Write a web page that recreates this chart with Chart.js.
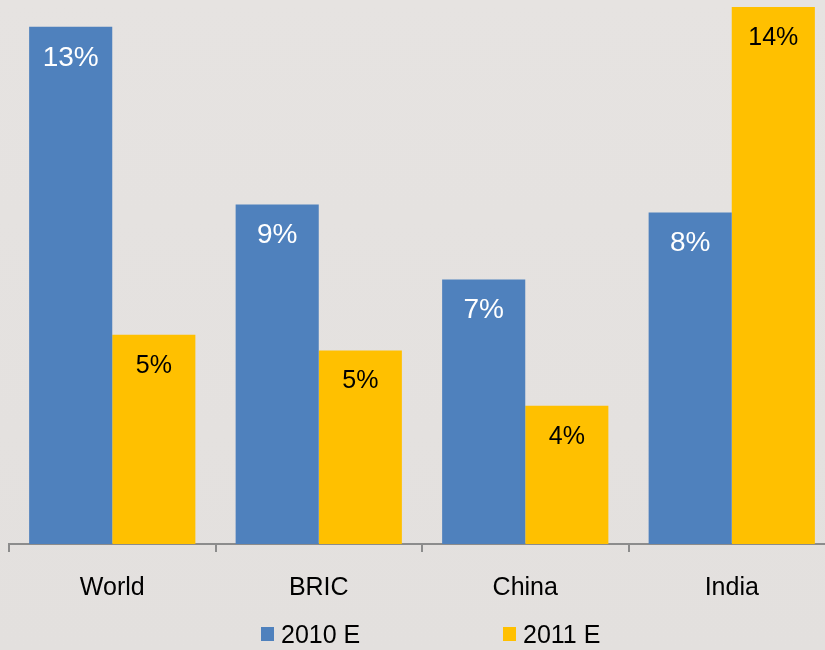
<!DOCTYPE html>
<html>
<head>
<meta charset="utf-8">
<script src="https://cdn.jsdelivr.net/npm/chart.js@4.4.0/dist/chart.umd.min.js"></script>
<style>
    html, body { margin: 0; padding: 0; overflow: hidden; }
    body { background: linear-gradient(180deg, #e6e3e1 0%, #e3e0de 100%); width: 825px; height: 650px; }
    #wrap { width: 845px; height: 650px; }
</style>
</head>
<body>
<div id="wrap"><canvas id="chart1" width="845" height="650"></canvas></div>
<script>
const categories = ["World", "BRIC", "China", "India"]
const seriesNames = ["2010 E", "2011 E"]
const values2010 = [13.1, 8.6, 6.7, 8.4]
const values2011 = [5.3, 4.9, 3.5, 13.6]

const seriesColors = ["#4f81bd", "#ffc000"]
const labelColors = ["#ffffff", "#000000"]
const labelSizes = [28, 25]
const fontFamily = "'Liberation Sans', Arial, sans-serif"

// value labels inside the top of each bar
const barLabels = {
    id: "barLabels",
    afterDatasetsDraw(chart) {
        const ctx = chart.ctx
        chart.data.datasets.forEach((ds, i) => {
            const meta = chart.getDatasetMeta(i)
            ctx.save()
            ctx.fillStyle = labelColors[i]
            ctx.font = labelSizes[i] + "px " + fontFamily
            ctx.textAlign = "center"
            ctx.textBaseline = "middle"
            meta.data.forEach((bar, j) => {
                ctx.fillText(Math.round(ds.data[j]) + "%", bar.x, bar.y + 31)
            })
            ctx.restore()
        })
    }
}

// legend drawn by hand, the built-in one can't be spaced this wide
const wideLegend = {
    id: "wideLegend",
    afterDraw(chart) {
        const ctx = chart.ctx
        const starts = [261, 503]
        ctx.save()
        ctx.font = "25px " + fontFamily
        ctx.textBaseline = "middle"
        ctx.textAlign = "left"
        chart.data.datasets.forEach((ds, i) => {
            ctx.fillStyle = ds.backgroundColor
            ctx.fillRect(starts[i], 627, 13, 14)
            ctx.fillStyle = "#000000"
            ctx.fillText(ds.label, starts[i] + 20, 636)
        })
        ctx.restore()
    }
}

const datasets = [values2010, values2011].map((vals, i) => ({
    label: seriesNames[i],
    data: vals,
    backgroundColor: seriesColors[i],
    borderWidth: 0,
    categoryPercentage: 0.805,
    barPercentage: 1.0,
}))

const ctx = document.getElementById("chart1").getContext("2d")
new Chart(ctx, {
    type: "bar",
    data: { labels: categories, datasets: datasets },
    options: {
        responsive: false,
        animation: { duration: 0 },
        layout: { padding: { left: 9, right: 10, top: 0, bottom: 26 } },
        scales: {
            x: {
                grid: {
                    offset: true,
                    drawOnChartArea: false,
                    drawTicks: true,
                    tickLength: 8,
                    color: "#8c8c8c",
                    lineWidth: 2,
                },
                border: { display: true, color: "#8c8c8c", width: 2 },
                ticks: {
                    color: "#000000",
                    padding: 21,
                    font: { family: fontFamily, size: 25 },
                },
            },
            y: {
                display: false,
                min: 0,
                max: 13.78,
            },
        },
        plugins: {
            legend: { display: false },
            tooltip: { enabled: false },
        },
    },
    plugins: [barLabels, wideLegend],
})
</script>
</body>
</html>
